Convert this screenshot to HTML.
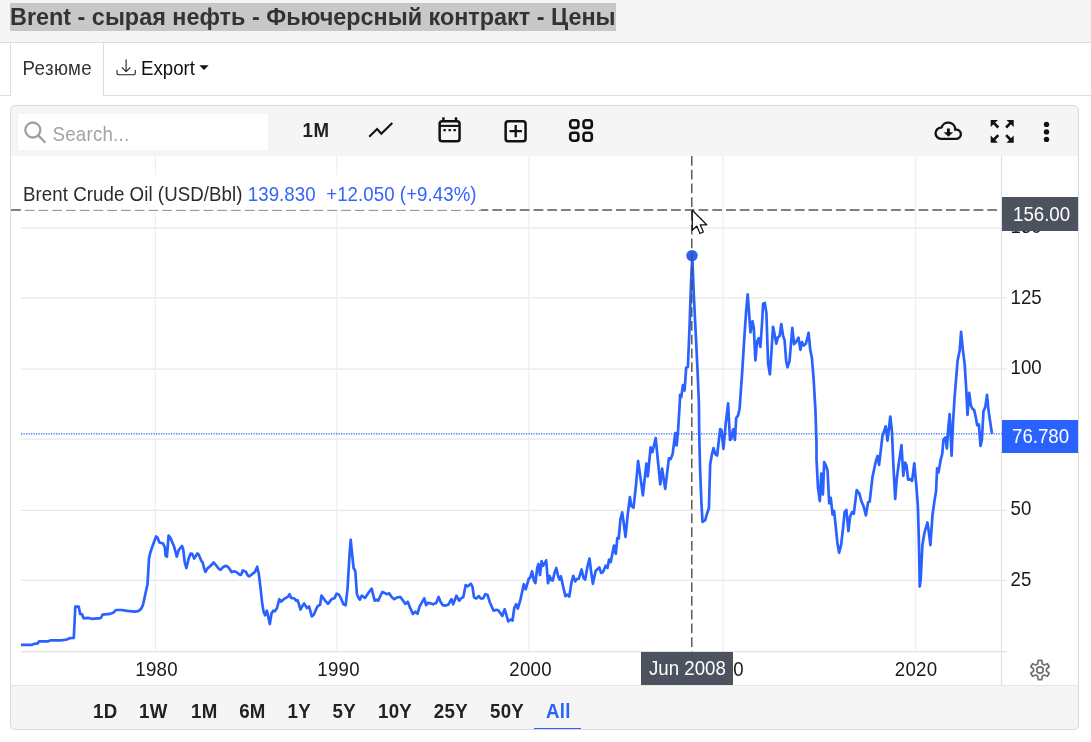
<!DOCTYPE html>
<html lang="ru"><head><meta charset="utf-8"><title>Brent</title>
<style>
html,body{margin:0;padding:0;background:#fff;}
body{width:1091px;height:742px;overflow:hidden;position:relative;font-family:"Liberation Sans",Arial,sans-serif;font-size:18.67px;color:#333;}
.abs{position:absolute;white-space:nowrap;}
#hdr{left:0;top:0;width:1091px;height:42px;background:#f5f5f5;border-bottom:1px solid #ddd;}
#title{margin:0;padding:0;left:10px;top:3px;height:28px;line-height:28px;font-size:23.4px;font-weight:bold;color:#333;background:#c8c8c8;}
#tabline{left:0;top:95px;width:1091px;height:1px;background:#ddd;}
#tab1{left:10px;top:43px;width:92px;height:53px;background:#fff;border-left:1px solid #ddd;border-right:1px solid #ddd;}
#card{left:10px;top:105px;width:1067px;height:623px;border:1px solid #d8dbde;border-radius:5px;background:#f5f5f5;overflow:hidden;}
#chartbg{left:11px;top:156px;width:1067px;height:529px;background:#fff;}
#search{left:18px;top:114px;width:250px;height:36px;background:#fff;}
.tb{font-weight:bold;color:#222;}
.rng{font-weight:bold;color:#222;top:701px;line-height:21px;letter-spacing:0.3px}
.ax{color:#1a1a1a;line-height:21px;}
.tx{letter-spacing:0.25px}
.sy,.ax,.rng{transform:scaleY(1.06);transform-origin:0 16.500px;}
</style></head><body>
<div class="abs" id="hdr"></div>
<h1 class="abs" id="title">Brent - сырая нефть - Фьючерсный контракт - Цены</h1>
<div class="abs" id="tabline"></div>
<div class="abs" id="tab1"></div>
<div class="abs sy" style="left:22.600px;top:58px;line-height:21px;color:#333;letter-spacing:0.4px">Резюме</div>
<svg class="abs" style="left:115px;top:57px" width="22" height="22" viewBox="0 0 22 22" fill="none" stroke="#222" stroke-width="1.100" stroke-linecap="round" stroke-linejoin="round"><path d="M11.100 2.800v11.700M7.200 10.700l3.900 3.900 3.900-3.900M2 13.400v2.600a1.700 1.700 0 0 0 1.700 1.700h14.900a1.700 1.700 0 0 0 1.700-1.700v-2.600"/></svg>
<div class="abs sy" style="left:141px;top:58px;line-height:21px;color:#111">Export</div>
<svg class="abs" style="left:199.300px;top:65px" width="10" height="6" viewBox="0 0 10 6"><path d="M0.300 0.300h9.400L5 5z" fill="#111"/></svg>

<div class="abs" id="card"></div>
<div class="abs" id="chartbg"></div>
<div class="abs" id="search"></div>
<svg class="abs" style="left:22px;top:119px" width="26" height="26" viewBox="0 0 26 26" fill="none" stroke="#a0a0a0" stroke-width="2.300"><circle cx="10.800" cy="11" r="7.500"/><path d="M16.200 16.400l7.300 7.300"/></svg>
<div class="abs sy" style="left:52.500px;top:123.500px;line-height:21px;color:#a3a3a3;letter-spacing:0.25px">Search...</div>
<div class="abs sy tb" style="left:302.400px;top:119.700px;line-height:21px;letter-spacing:0.8px">1M</div>

<!-- toolbar icons -->
<svg class="abs" style="left:366px;top:118px" width="30" height="26" viewBox="0 0 30 26" fill="none" stroke="#111" stroke-width="2.1" stroke-linejoin="miter"><path d="M3.200 18.700l7.900-7.600 4.200 4.600L26.300 5"/></svg>
<svg class="abs" style="left:436px;top:115px" width="28" height="30" viewBox="0 0 28 30" fill="none" stroke="#111" stroke-width="2.500"><rect x="3.650" y="6.150" width="19.900" height="20.100" rx="2.600"/><path d="M3.650 10.900h19.900" stroke-width="2.100"/><path d="M7.400 2.300v4M20 2.300v4" stroke-width="2.400"/><path d="M7.400 15.200h2.400M12.500 15.200h2.400M17.500 15.200h2.400" stroke-width="2.300"/></svg>
<svg class="abs" style="left:501px;top:117px" width="28" height="28" viewBox="0 0 28 28" fill="none" stroke="#111" stroke-width="2.500"><rect x="4.650" y="4.150" width="19.900" height="20.100" rx="2.600"/><path d="M14.700 8.100v12.200M8.500 14.200h12.400" stroke-width="2.300"/></svg>
<svg class="abs" style="left:567px;top:117px" width="28" height="28" viewBox="0 0 28 28" fill="none" stroke="#111" stroke-width="2.600"><rect x="3.200" y="3.200" width="8.200" height="7.700" rx="2.600"/><rect x="16.500" y="3.200" width="8.300" height="7.700" rx="2.600"/><rect x="3.200" y="15.700" width="8.200" height="8" rx="2.600"/><rect x="16.500" y="15.700" width="8.300" height="8" rx="2.600"/></svg>
<svg class="abs" style="left:932px;top:117px" width="32" height="28" viewBox="0 0 32 28" fill="none" stroke="#111" stroke-width="2.300" stroke-linejoin="round"><path d="M9.200 21.800H24.300A4.600 4.600 0 1 0 23.200 12.730A7 7 0 0 0 9.480 10.610A5.600 5.600 0 1 0 9.200 21.800z"/><path d="M16.400 11.500v4.500" stroke-width="3"/><path d="M11.700 15.200h9.500L16.400 19.700z" fill="#111" stroke="none"/></svg>
<svg class="abs" style="left:988px;top:117px" width="28" height="28" viewBox="0 0 28 28" fill="#111" stroke="#111" stroke-width="2.600"><path d="M2.700 2.900h7.200l-7.200 7.200z M25.700 2.900h-7.200l7.200 7.200z M2.700 25.800h7.200l-7.200-7.200z M25.700 25.800h-7.200l7.200-7.200z" stroke="none"/><path d="M5 5.200l5.300 5.300M23.400 5.200l-5.300 5.300M5 23.500l5.300-5.300M23.400 23.500l-5.300-5.300"/></svg>
<svg class="abs" style="left:1040px;top:119px" width="13" height="26" viewBox="0 0 13 26" fill="#111"><circle cx="6.500" cy="5.400" r="2.700"/><circle cx="6.500" cy="12.900" r="2.700"/><circle cx="6.500" cy="20.400" r="2.700"/></svg>

<!-- chart -->
<svg class="abs" style="left:0;top:156px" width="1091" height="530" viewBox="0 156 1091 530">
  <g stroke="#e7e7e7" stroke-width="1.250">
    <path d="M21 227.900H1001M21 297.900H1007M21 369.050H1007M21 439.200H1001M21 510.250H1007M21 580.300H1007"/>
  </g>
  <path d="M21 651.650H1007" stroke="#e2e2e2" stroke-width="1.350"/>
  <g stroke="#ecf0f5" stroke-width="1.250">
    <path d="M155.400 156V651M336.700 156V651M528.950 156V651M723 156V651M915.500 156V651"/>
  </g>
  <path d="M1001.500 156V686" stroke="#e0e0e0" stroke-width="1.150"/>
  <path d="M11 685.500H1078" stroke="#e6e6e6" stroke-width="1"/>
  <!-- price line dotted -->
  <path d="M21 433.900H1002" stroke="#2962ff" stroke-width="1.250" stroke-dasharray="1.250 1.250"/>
  <polyline fill="none" stroke="#2962ff" stroke-width="2.700" stroke-linejoin="round" stroke-linecap="butt" points="21.0,644.8 32.0,644.8 34.7,643.7 37.5,643.6 39.0,641.4 47.6,641.4 50.3,640.4 61.3,640.4 66.8,639.5 69.6,638.2 73.8,637.9 75.3,606.7 78.7,606.7 80.2,613.9 82.0,614.4 83.7,618.4 87.9,617.9 91.6,618.8 100.7,618.1 102.6,614.6 109.9,613.9 113.6,612.6 115.8,610.0 121.8,610.0 127.3,610.9 134.7,611.7 138.3,611.1 141.1,608.9 142.9,605.2 144.7,597.0 147.5,584.2 149.0,558.5 150.2,553.0 153.0,544.7 156.1,536.5 157.6,537.8 159.4,542.5 163.1,543.5 164.9,547.5 165.6,555.7 166.9,556.7 168.6,535.6 170.4,537.8 174.1,546.6 176.8,556.7 178.7,550.2 182.0,546.0 183.2,549.3 184.7,562.2 186.4,568.0 188.7,558.5 190.6,553.5 192.0,553.5 194.2,558.5 197.4,553.5 198.8,554.8 201.5,561.2 202.7,562.5 204.0,568.0 205.5,571.9 207.3,568.6 210.1,566.2 213.7,562.5 216.5,565.8 218.3,568.2 220.5,569.9 222.9,567.3 225.7,565.8 227.9,566.7 230.2,569.9 231.5,572.2 233.9,571.3 236.7,572.2 240.0,575.0 241.2,574.6 242.7,570.4 245.8,571.7 247.7,575.4 249.1,576.3 252.2,574.1 255.0,571.9 257.2,566.7 258.7,573.2 260.5,587.8 262.3,604.3 263.6,611.7 265.1,615.3 266.9,610.7 268.2,616.2 269.8,624.1 271.5,613.5 273.3,610.7 274.8,611.3 277.0,608.0 279.4,599.2 281.2,601.6 284.3,598.8 288.0,596.6 289.5,594.2 291.1,597.9 294.4,598.5 296.2,600.7 297.7,600.3 300.5,609.5 302.3,606.2 304.1,603.4 306.9,608.0 309.1,606.5 311.8,616.4 313.7,615.0 315.9,609.8 317.3,606.7 320.1,604.7 321.5,595.5 324.7,600.1 328.0,603.8 331.6,599.2 334.7,597.9 336.6,593.7 338.8,594.6 340.8,597.9 343.4,604.3 345.7,605.2 347.6,587.8 349.4,556.7 350.7,539.8 352.2,554.8 353.6,568.0 355.3,571.0 356.9,594.2 358.6,597.9 359.9,599.7 361.7,595.7 365.0,597.9 368.7,592.4 371.8,588.7 373.2,595.2 374.7,600.7 376.9,599.7 378.2,600.7 380.6,595.5 382.4,592.0 385.2,593.3 387.0,594.2 389.2,593.3 391.6,597.0 394.3,599.2 397.1,597.5 399.5,597.0 400.4,597.0 402.8,600.3 405.2,603.8 407.8,601.9 410.2,608.0 412.9,613.9 415.3,611.7 417.5,613.9 419.7,606.2 422.1,602.1 424.3,598.3 426.1,605.2 427.9,602.9 430.7,603.4 433.1,604.3 436.2,602.9 438.6,597.0 440.4,601.6 442.8,605.2 445.0,605.6 448.3,604.7 451.4,599.2 453.2,604.3 456.4,595.7 459.3,600.7 461.1,598.3 463.3,597.0 465.7,585.1 467.9,586.4 470.8,583.6 472.5,586.9 474.0,597.4 476.2,598.5 478.9,596.1 480.7,598.5 483.1,598.5 485.3,594.2 487.5,594.8 489.9,602.5 493.6,610.7 496.3,609.8 498.2,610.2 500.0,612.6 502.4,615.9 504.6,609.3 506.0,613.5 508.2,621.4 510.6,619.5 512.5,620.5 514.3,608.0 516.1,604.3 517.8,608.5 520.2,600.7 523.8,584.2 525.7,589.3 528.8,578.7 530.2,577.7 532.1,571.3 533.9,580.5 535.4,583.2 537.2,568.0 538.5,564.0 540.0,575.0 541.6,561.2 543.1,565.8 546.2,560.3 548.0,583.2 549.5,575.9 551.3,580.1 552.8,580.5 554.4,573.2 556.3,568.0 558.3,576.8 559.6,579.6 560.9,576.3 563.2,586.9 565.4,596.1 567.5,594.6 569.3,596.6 571.5,582.3 573.3,575.9 575.2,581.4 577.0,579.0 578.8,578.7 581.6,569.5 583.4,577.7 585.2,579.6 587.6,565.8 589.5,558.5 591.1,571.6 592.9,583.8 595.6,571.0 599.3,567.4 601.1,572.9 603.0,572.1 605.7,565.7 607.5,567.9 609.0,559.7 610.7,562.1 614.0,545.6 615.8,553.8 617.3,538.2 618.7,538.6 620.4,519.4 622.2,512.4 623.7,523.0 625.5,536.8 627.7,514.8 629.9,497.2 631.3,506.0 633.5,507.6 635.9,486.2 638.1,461.0 640.5,477.9 642.9,495.3 644.7,478.8 646.4,463.6 647.8,476.4 650.6,447.3 652.4,452.2 655.7,438.1 657.9,460.5 660.3,484.3 662.1,468.7 665.2,488.9 668.9,458.3 670.7,459.0 672.6,454.1 675.3,433.0 676.6,445.5 678.1,430.2 679.9,400.9 680.0,394.9 681.3,397.1 682.9,385.1 684.6,390.5 686.2,367.5 687.9,367.0 689.5,327.9 691.0,284.0 692.3,255.8 693.8,294.9 696.0,338.9 697.6,371.9 698.9,403.1 699.2,433.0 700.1,469.7 701.4,502.7 702.5,521.9 705.2,520.1 707.0,513.7 708.9,508.2 710.2,464.2 712.0,454.1 713.5,448.0 715.3,454.1 717.1,455.5 720.2,429.0 721.5,430.2 723.4,448.9 725.7,423.8 728.1,403.3 730.0,440.0 731.2,438.9 733.1,429.3 734.9,440.0 736.2,418.0 738.0,415.6 739.5,409.2 740.0,403.1 742.2,371.9 744.4,336.7 746.2,310.3 747.7,294.3 749.2,314.7 750.5,332.3 752.5,321.3 753.8,327.9 755.4,360.4 757.1,341.5 758.7,338.2 760.4,347.0 762.0,324.0 763.1,303.7 764.8,302.9 766.4,313.0 768.1,363.5 769.9,374.5 771.4,352.5 773.0,326.8 774.7,334.9 776.3,343.7 777.8,337.6 779.6,336.0 781.3,324.0 783.1,336.0 784.6,340.4 786.2,361.3 787.5,367.3 789.5,361.3 791.0,343.7 792.3,327.9 794.1,344.2 796.0,342.0 798.5,337.6 800.4,349.9 802.0,342.0 803.7,345.5 805.9,343.7 808.6,332.7 810.3,350.3 811.9,358.0 813.6,378.9 815.4,409.7 816.5,443.1 816.5,459.3 818.0,487.9 819.8,501.1 821.3,473.6 822.9,494.5 824.2,462.0 825.9,465.5 827.5,470.3 829.2,503.3 830.8,497.8 832.5,514.3 834.1,511.0 835.6,525.3 837.4,542.9 839.1,552.7 841.1,545.1 842.9,529.7 844.6,512.1 846.4,509.9 848.4,531.2 850.1,516.5 852.1,512.1 853.8,513.8 856.7,490.1 859.3,493.4 861.5,501.5 863.7,506.6 865.9,515.4 868.1,502.2 869.7,501.5 872.5,476.9 875.8,461.5 877.6,456.0 879.1,464.8 882.4,436.3 885.7,426.4 887.5,440.7 890.3,416.5 891.9,430.8 893.4,465.9 895.2,498.9 896.7,479.1 898.9,462.6 901.5,445.1 903.3,475.8 905.1,462.6 906.6,465.9 908.1,479.6 909.9,479.1 912.1,480.9 914.3,463.3 916.5,487.9 917.9,506.7 918.9,541.1 919.5,571.4 919.7,586.6 920.7,579.5 922.4,545.2 924.4,533.0 927.4,522.5 929.0,533.0 930.4,545.2 932.5,514.8 934.5,500.7 936.1,490.6 937.1,468.3 938.5,472.4 940.6,460.2 942.2,454.2 943.5,439.4 945.5,437.4 946.9,448.5 948.5,425.3 949.7,414.1 951.6,455.6 953.0,423.2 954.6,397.0 957.6,360.6 959.7,350.4 961.1,331.8 962.7,348.4 964.7,364.6 966.1,386.8 967.5,414.8 969.2,392.9 970.8,405.0 972.4,408.7 974.2,410.1 975.8,417.2 977.2,425.3 978.9,424.3 980.5,445.9 981.9,439.4 983.5,411.1 985.3,407.1 987.0,394.9 988.6,411.1 992.0,433.8"/>
  <!-- crosshair -->
  <circle cx="692" cy="255.600" r="5.700" fill="#2962ff"/>
  <path d="M691.800 156V651.500" stroke="#505050" stroke-width="1.400" stroke-dasharray="9.800 3.950"/>
  <!-- legend bg -->
</svg>
<svg class="abs" style="left:0;top:200px" width="1091" height="20" viewBox="0 200 1091 20"><path d="M11 210.050H1001" stroke="#808080" stroke-width="2" stroke-dasharray="9.800 3.950"/></svg>
<div class="abs" style="left:21px;top:175px;width:460px;height:35px;background:rgba(255,255,255,0.88)"></div>
<div class="abs" style="left:21px;top:210px;width:460px;height:1px;background:rgba(255,255,255,0.2)"></div>
<div class="abs sy" style="left:23px;top:184px;line-height:21px;color:#2b2b2b;letter-spacing:0.07px">Brent Crude Oil (USD/Bbl) <span style="color:#3463ff">139.830&nbsp; +12.050 (+9.43%)</span></div>

<!-- axis labels -->
<div class="abs ax" style="left:1010.500px;top:287px">125</div>
<div class="abs ax" style="left:1010.500px;top:357px">100</div>
<div class="abs ax" style="left:1010.500px;top:498px">50</div>
<div class="abs ax" style="left:1010.500px;top:569px">25</div>
<div class="abs ax" style="left:1010.500px;top:215.600px">150</div>
<div class="abs" style="left:1002px;top:197px;width:76px;height:34px;background:#4c525e;"></div>
<div class="abs sy" style="left:1013px;top:204px;line-height:21px;color:#fff">156.00</div>
<div class="abs" style="left:1002px;top:420px;width:76px;height:33px;background:#2962ff;"></div>
<div class="abs sy" style="left:1012px;top:426px;line-height:21px;color:#fff">76.780</div>

<div class="abs ax tx" style="left:135.300px;top:659px">1980</div>
<div class="abs ax tx" style="left:317.300px;top:659px">1990</div>
<div class="abs ax tx" style="left:509.300px;top:659px">2000</div>
<div class="abs ax tx" style="left:701.300px;top:659px">2010</div>
<div class="abs ax tx" style="left:894.800px;top:659px">2020</div>
<div class="abs" style="left:641px;top:652px;width:92px;height:33px;background:#4c525e;"></div>
<div class="abs sy" style="left:649px;top:658px;line-height:21px;color:#fff">Jun 2008</div>

<!-- gear -->
<svg class="abs" style="left:1028px;top:657.850px" width="24" height="24" viewBox="0 0 24 24" fill="none" stroke="#6e6e6e" stroke-width="1.700" stroke-linejoin="round"><circle cx="12" cy="12" r="3.200"/><path d="M14.40 6.07L13.77 2.46 L10.23 2.46 L9.60 6.07A6.40 6.40 0 0 0 8.06 6.96L4.62 5.70 L2.86 8.76 L5.66 11.11A6.40 6.40 0 0 0 5.66 12.89L2.86 15.24 L4.62 18.30 L8.06 17.04A6.40 6.40 0 0 0 9.60 17.93L10.23 21.54 L13.77 21.54 L14.40 17.93A6.40 6.40 0 0 0 15.94 17.04L19.38 18.30 L21.14 15.24 L18.34 12.89A6.40 6.40 0 0 0 18.34 11.11L21.14 8.76 L19.38 5.70 L15.94 6.96A6.40 6.40 0 0 0 14.40 6.07Z"/></svg>

<!-- mouse cursor -->
<svg class="abs" style="left:691px;top:209px" width="19" height="27" viewBox="0 0 18 25.600"><path d="M1.200 1.200v19l4.300-4 3 7 3.200-1.400-3-6.800h6.200z" fill="#fff" stroke="#111" stroke-width="1.200" stroke-linejoin="round"/></svg>

<!-- range buttons -->
<div class="abs rng" style="left:93px">1D</div>
<div class="abs rng" style="left:139px">1W</div>
<div class="abs rng" style="left:191px">1M</div>
<div class="abs rng" style="left:239.200px">6M</div>
<div class="abs rng" style="left:287.500px">1Y</div>
<div class="abs rng" style="left:332.500px">5Y</div>
<div class="abs rng" style="left:378px">10Y</div>
<div class="abs rng" style="left:433.800px">25Y</div>
<div class="abs rng" style="left:490px">50Y</div>
<div class="abs rng" style="left:546px;color:#2962ff">All</div>
<div class="abs" style="left:534px;top:727.600px;width:47px;height:1.500px;background:#2962ff"></div>
</body></html>
